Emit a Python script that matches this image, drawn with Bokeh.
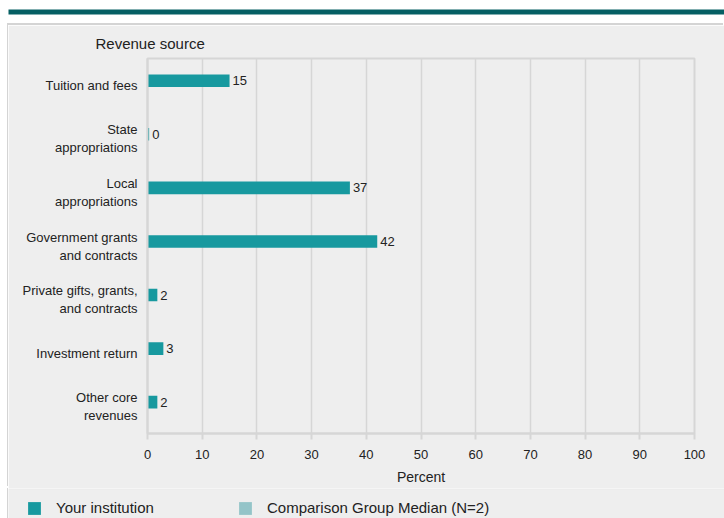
from bokeh.plotting import figure
from bokeh.models import (ColumnDataSource, FactorRange, Range1d, FixedTicker, Legend,
                          LegendItem)
from bokeh.transform import dodge
from bokeh.layouts import column
from bokeh.core.properties import value
from bokeh.embed import file_html
from bokeh.resources import INLINE

# ---- data ----
categories = ["Tuition and fees", "State\nappropriations", "Local\nappropriations",
              "Government grants\nand contracts", "Private gifts, grants,\nand contracts",
              "Investment return", "Other core\nrevenues"]
institution = [15.0, 0.3, 37.0, 42.0, 1.8, 2.9, 1.8]
comparison = [None, None, None, None, None, None, None]
x_ticks = [0, 10, 20, 30, 40, 50, 60, 70, 80, 90, 100]
series_names = ["Your institution", "Comparison Group Median (N=2)"]

FONT = "Liberation Sans"
TXT = "#222222"
GRID = "#d6d6d6"
BG = "#eeeeee"
C1 = "#17999f"
C2 = "#94c4c8"
W = 716

src = ColumnDataSource(dict(
    cat=categories,
    inst=institution,
    comp=comparison,
    label=[str(int(round(v))) for v in institution],
))

# ---------------- top band ----------------
band = figure(width=W, height=25, output_backend="svg", toolbar_location=None,
              x_axis_location=None, y_axis_location=None, frame_align=False,
              min_border_left=0, min_border_right=0, min_border_top=9, min_border_bottom=11,
              background_fill_color="#055f63", border_fill_color="#ffffff",
              outline_line_color=None)
band.xgrid.grid_line_color = None
band.ygrid.grid_line_color = None

# ---------------- main chart ----------------
p = figure(width=W, height=463, output_backend="svg", toolbar_location=None,
           x_range=Range1d(0, 100), y_range=FactorRange(*reversed(categories)),
           min_border_left=139, min_border_right=30, min_border_top=33, min_border_bottom=55,
           background_fill_color=BG, border_fill_color=BG, frame_align=False,
           title="Revenue source")
p.y_range.range_padding = 0
p.styles = {"box-shadow": "-1px -2px 0 #d4d4d4"}

p.title.text_font = FONT
p.title.text_font_size = "15px"
p.title.text_font_style = "normal"
p.title.text_color = TXT
p.title.align = "left"
p.title.offset = -52
p.title.standoff = 14

bar_y = dodge("cat", 0.085, range=p.y_range)
p.hbar(y=bar_y, right="inst", left=0, height=0.235,
       source=src, fill_color=C1, line_color=None)
p.hbar(y=dodge("cat", -0.17, range=p.y_range), right="comp", left=0, height=0.235,
       source=src, fill_color=C2, line_color=None)
p.text(x="inst", y=bar_y, text="label", source=src,
       x_offset=3, text_baseline="middle", text_align="left",
       text_font=value(FONT), text_font_size="13px", text_color=TXT)

xa = p.xaxis[0]
xa.ticker = FixedTicker(ticks=x_ticks)
xa.axis_line_color = GRID
xa.axis_line_width = 2
xa.major_tick_line_color = GRID
xa.major_tick_line_width = 2
xa.major_tick_out = 6
xa.major_tick_in = 0
xa.minor_tick_line_color = None
xa.major_label_text_font = FONT
xa.major_label_text_font_size = "13px"
xa.major_label_text_color = TXT
xa.major_label_standoff = 10
xa.axis_label = "Percent"
xa.axis_label_text_font = FONT
xa.axis_label_text_font_size = "14px"
xa.axis_label_text_font_style = "normal"
xa.axis_label_text_color = TXT
xa.axis_label_standoff = 7

ya = p.yaxis[0]
ya.axis_line_color = GRID
ya.axis_line_width = 2
ya.major_tick_line_color = None
ya.major_tick_out = 0
ya.major_tick_in = 0
ya.minor_tick_line_color = None
ya.major_label_text_font = FONT
ya.major_label_text_font_size = "13px"
ya.major_label_text_color = TXT
ya.major_label_standoff = 10

p.xgrid.ticker = FixedTicker(ticks=x_ticks)
p.xgrid.grid_line_color = GRID
p.xgrid.grid_line_width = 1.5
p.ygrid.grid_line_color = None
p.outline_line_color = GRID
p.outline_line_width = 2

# ---------------- legend strip (1px top border = separator) ----------------
lg = figure(width=W, height=30, output_backend="svg", toolbar_location=None,
            x_range=Range1d(0, 100), y_range=FactorRange(*reversed(categories)),
            x_axis_location=None, y_axis_location=None, frame_align=False,
            min_border_left=0, min_border_right=0, min_border_top=1, min_border_bottom=0,
            background_fill_color=BG, border_fill_color="#d8d8d8", outline_line_color=None)
lg.styles = {"box-shadow": "-1px 0 0 #d4d4d4"}
lg.xgrid.grid_line_color = None
lg.ygrid.grid_line_color = None
g1 = lg.hbar(y="cat", right="inst", left=0, height=0.235, source=src,
             fill_color=C1, line_color=None, visible=False)
g2 = lg.hbar(y="cat", right="comp", left=0, height=0.235, source=src,
             fill_color=C2, line_color=None, visible=False)
legend = Legend(items=[LegendItem(label=series_names[0], renderers=[g1]),
                       LegendItem(label=series_names[1], renderers=[g2])],
                orientation="horizontal", location=(18, 2), padding=0, margin=0,
                border_line_color=None, background_fill_alpha=0,
                inactive_fill_alpha=0,
                glyph_width=16, glyph_height=16, label_standoff=14, label_width=167,
                spacing=14, label_text_font=FONT, label_text_font_size="15px",
                label_text_color=TXT)
lg.add_layout(legend, "center")

layout = column(band, p, lg, spacing=0, margin=(0, 0, 0, 8))
open("out.html", "w").write(file_html(layout, INLINE))
